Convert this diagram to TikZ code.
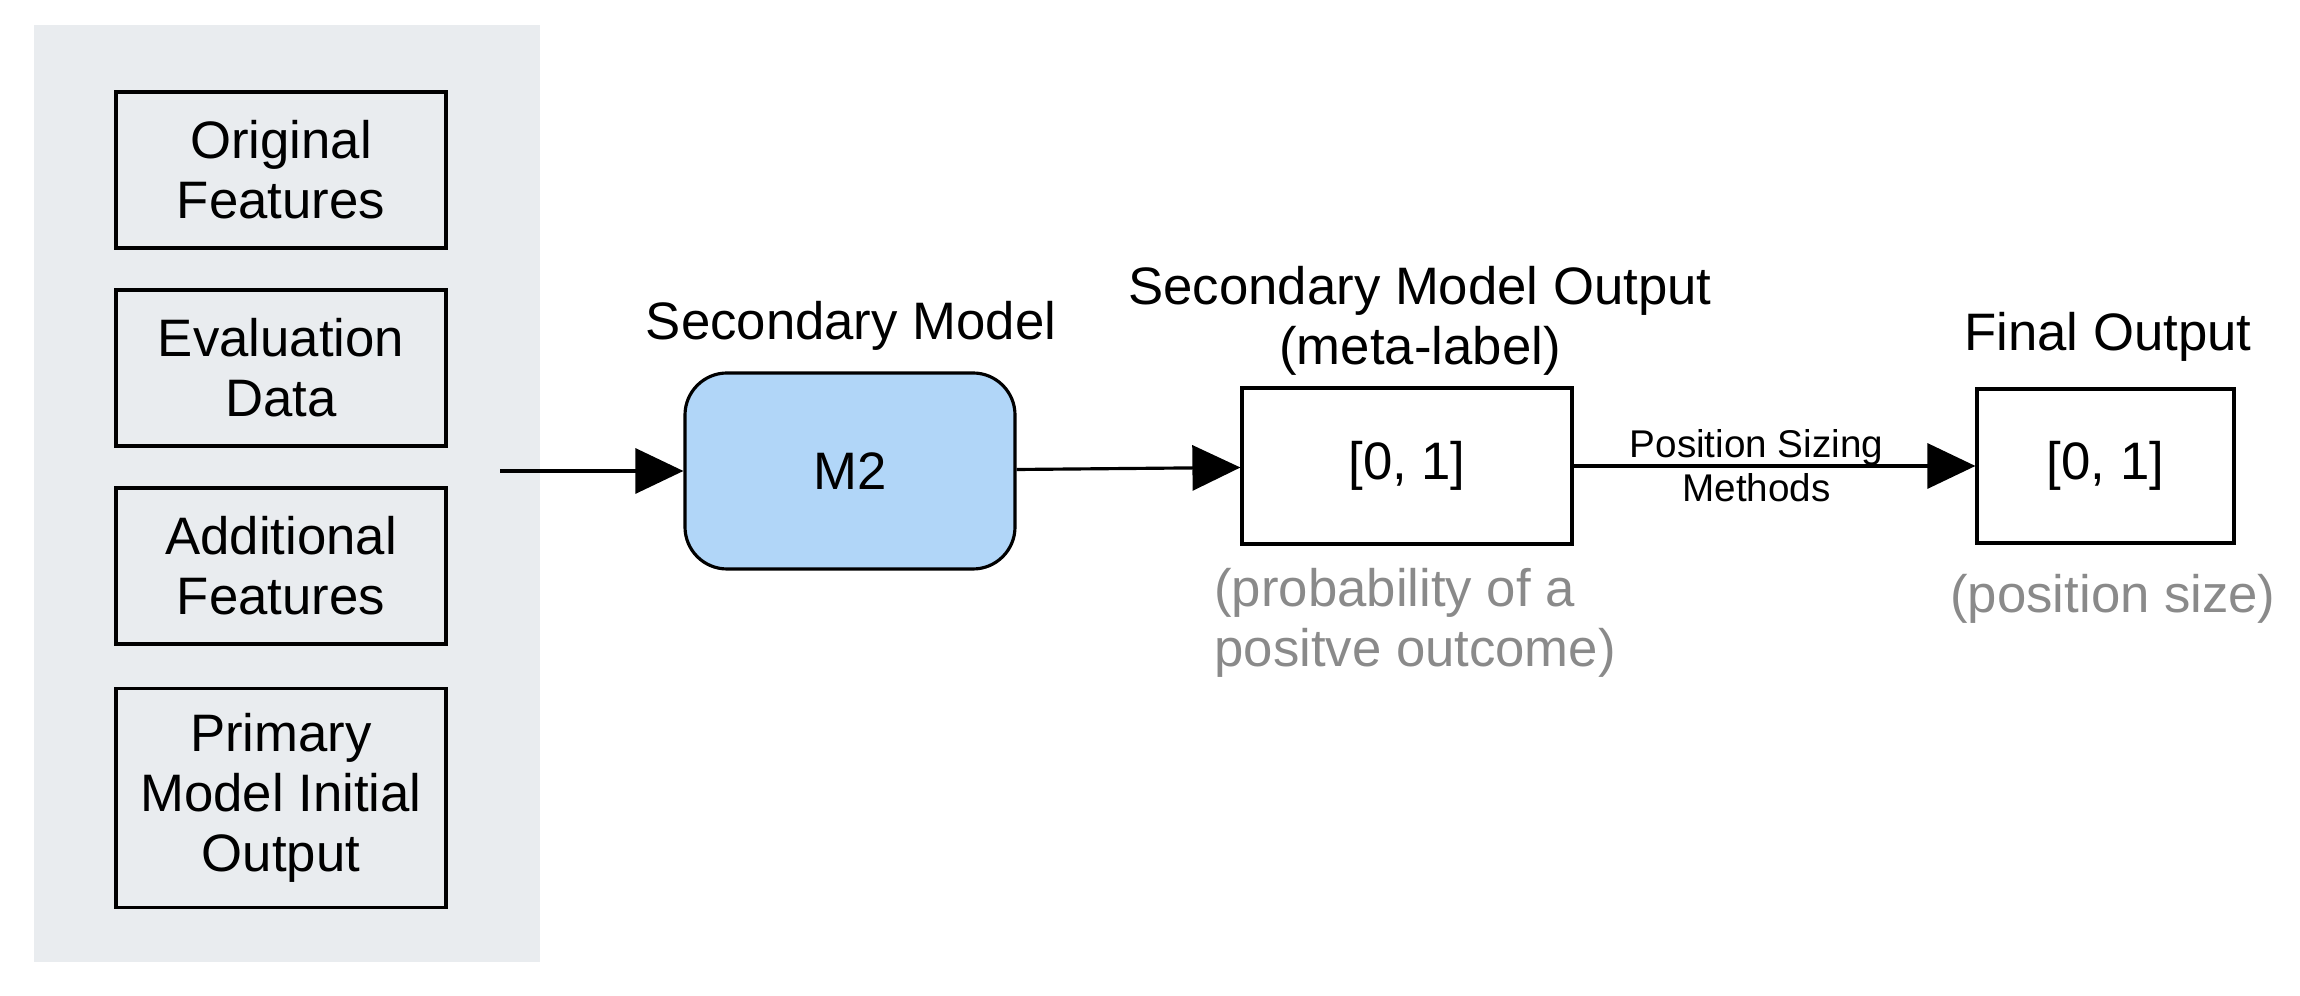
\documentclass[tikz,border=0pt]{standalone}
\usepackage{fontspec}
\setmainfont{Liberation Sans}
\usetikzlibrary{arrows.meta}
\definecolor{panelgray}{HTML}{E9ECEF}
\definecolor{modelblue}{HTML}{B1D6F8}
\definecolor{notegray}{HTML}{8A8A8A}
\newcommand{\mainsize}{\fontsize{15}{17}\selectfont}
\newcommand{\edgesize}{\fontsize{11}{12.5}\selectfont}
\begin{document}
\begin{tikzpicture}[
	inbox/.style={draw, line width=0.9pt, minimum width=3.3cm, minimum height=1.56cm, align=center, font=\mainsize},
	flow/.style={line width=0.9pt, -{Triangle[length=4.8mm, width=4.5mm]}},
	title/.style={align=center, font=\mainsize},
	note/.style={text=notegray, font=\mainsize}
]
\useasboundingbox (0,0) rectangle (23,9.96);
%input panel
\fill[panelgray] (0.34,0.34) rectangle (5.40,9.71);
\node[inbox] (orig) at (2.81,8.26) {Original\\Features};
\node[inbox] (eval) at (2.81,6.28) {Evaluation\\Data};
\node[inbox] (addf) at (2.81,4.30) {Additional\\Features};
\node[inbox, minimum height=2.19cm] (prim) at (2.81,1.98) {Primary\\Model Initial\\Output};
\coordinate (in) at (5.00,5.25);

%model and outputs
\node[inbox, fill=modelblue, rounded corners=0.42cm, minimum height=1.96cm] (m2) at (8.50,5.25) {M2};
\node[inbox] (meta) at (14.07,5.30) {[0, 1]};
\node[inbox, minimum width=2.57cm, minimum height=1.54cm] (final) at (21.055,5.30) {[0, 1]};

\node[title] (m2title) at (8.51,6.70) {Secondary Model};
\node[title] (metatitle) at (14.20,6.75) {Secondary Model Output\\(meta-label)};
\node[title] (finaltitle) at (21.08,6.59) {Final Output};
\node[note, align=left, anchor=west] (metanote) at (12.02,3.73) {(probability of a\\positve outcome)};
\node[note] (finalnote) at (21.13,3.97) {(position size)};

\draw[flow] (in) -- (m2);
\draw[flow] (m2) -- (meta);
\draw[flow] (meta) -- (final) node[midway, align=center, font=\edgesize, xshift=-0.18cm] (sizing) {Position Sizing\\Methods};
\end{tikzpicture}
\end{document}
